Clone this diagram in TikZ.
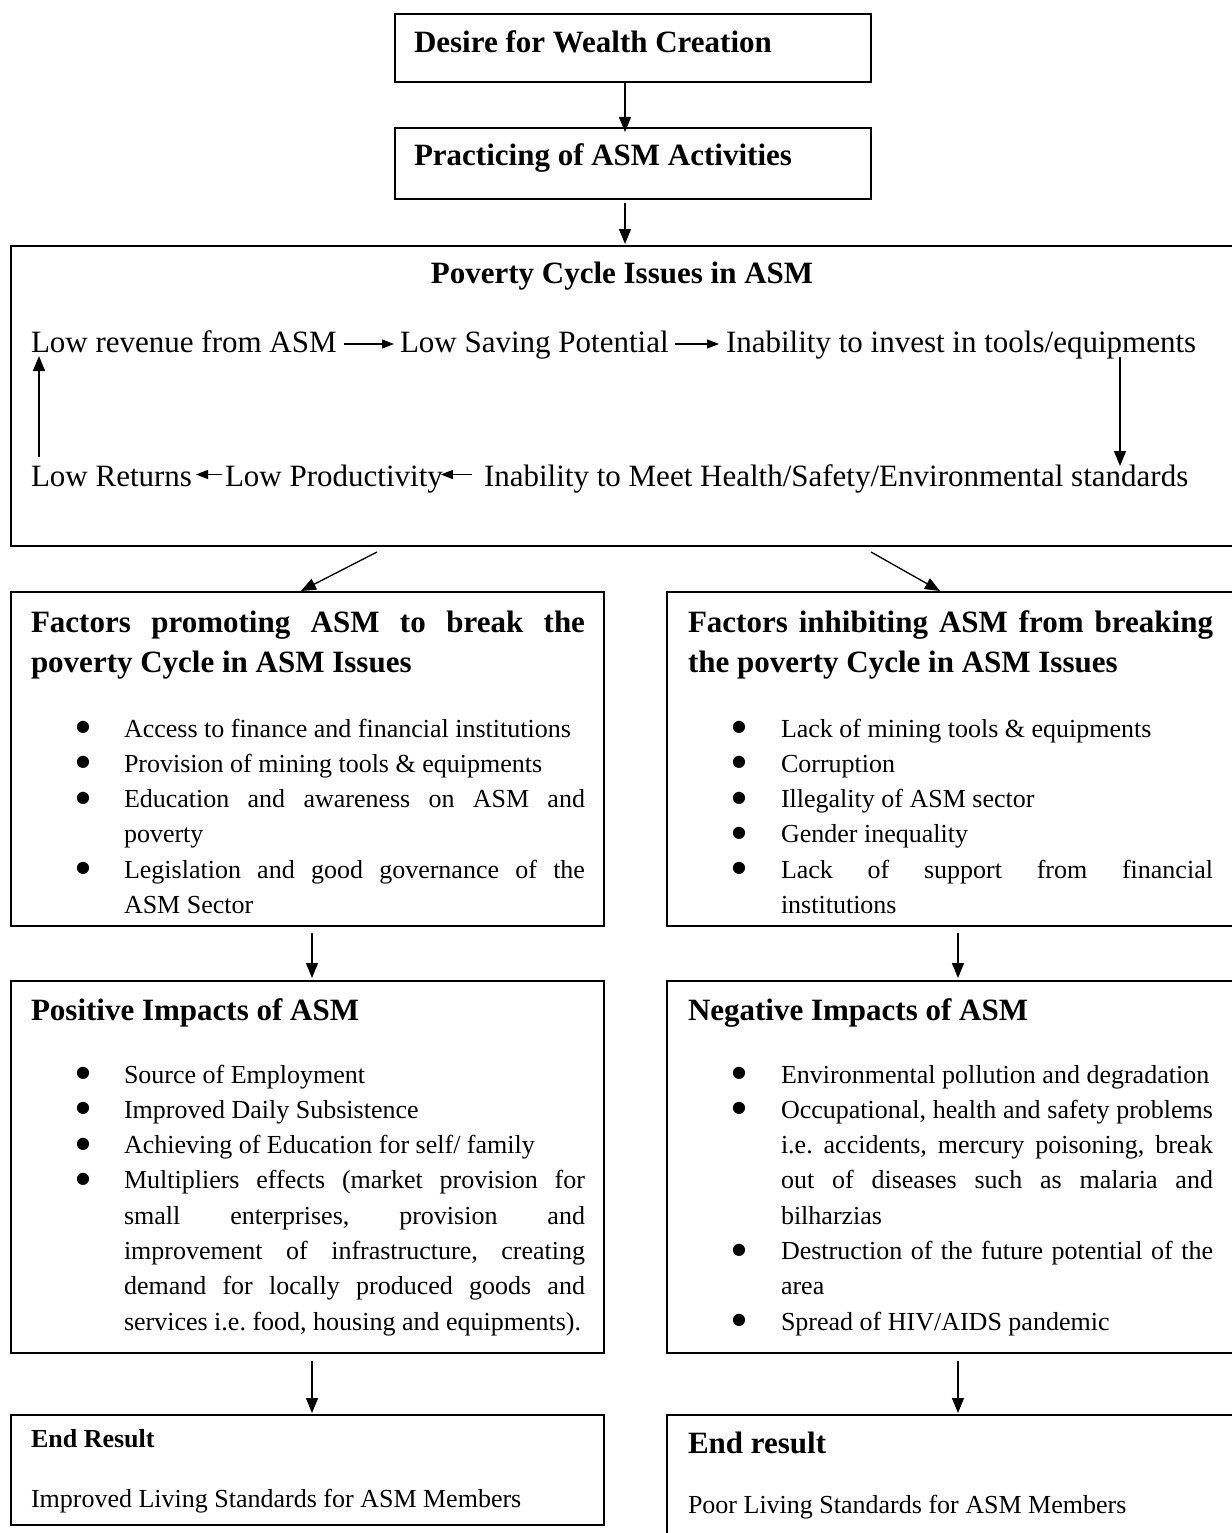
\documentclass[tikz,border=0pt]{standalone}
\usepackage{fontspec}
\setmainfont{Liberation Serif}
\newfontfamily\symfont{DejaVu Sans}
\usetikzlibrary{arrows.meta}
\newlength{\bhang}
\newcommand{\bitem}{\hangindent=\bhang\hangafter=1\noindent\makebox[\bhang][l]{\hspace{-2pt}\raisebox{5.5pt}{\symfont\fontsize{16}{16}\selectfont ●}}}
\newcommand{\hfont}{\fontsize{31}{40}\selectfont\bfseries}
\newcommand{\rfont}{\fontsize{31}{40}\selectfont}
\newcommand{\sfont}{\fontsize{26}{35.3}\selectfont}
\newcommand{\parset}{\tolerance=10000 \hyphenpenalty=10000 \exhyphenpenalty=10000 \frenchspacing}
\begin{document}
\begin{tikzpicture}[x=1pt,y=-1pt,
  box/.style={draw, line width=1.7pt, inner sep=0pt, outer sep=0pt, anchor=north west},
  txt/.style={inner sep=0pt, outer sep=0pt, anchor=base west},
  head/.style={txt, font=\hfont},
  row/.style={txt, font=\rfont},
  small/.style={txt, font=\sfont},
  para/.style={txt, align=justify},
  arr/.style={line width=1.3pt, -{Triangle[length=15pt,width=12pt]}},
  rarr/.style={line width=1.1pt, -{Triangle[length=12pt,width=9pt]}}
]
\useasboundingbox (0,0) rectangle (1231,1533);

% boxes
\node[box, minimum width=476pt, minimum height=68pt] (b1) at (395,14) {};
\node[box, minimum width=476pt, minimum height=71pt] (b2) at (395,128) {};
\node[box, minimum width=1223pt, minimum height=300pt] (pov) at (11,246) {};
\node[box, minimum width=593pt, minimum height=334pt] (fl) at (11,592) {};
\node[box, minimum width=567pt, minimum height=334pt] (fr) at (667,592) {};
\node[box, minimum width=593pt, minimum height=372pt] (pl) at (11,981) {};
\node[box, minimum width=567pt, minimum height=372pt] (pr) at (667,981) {};
\node[box, minimum width=593pt, minimum height=110pt] (el) at (11,1415) {};
\node[box, minimum width=567pt, minimum height=130pt] (er) at (667,1415) {};

% top texts
\node[head] (t1) at (414,53) {Desire for Wealth Creation};
\node[head] (t2) at (414,166) {Practicing of ASM Activities};

% poverty cycle
\node[head, anchor=base] (povt) at (622,283) {Poverty Cycle Issues in ASM};
\node[row] (r1a) at (31,352) {Low revenue from ASM};
\node[row] (r1b) at (400,352) {Low Saving Potential};
\node[row] (r1c) at (726,352) {Inability to invest in tools/equipments};
\node[row] (r2a) at (31,486.5) {Low Returns};
\node[row] (r2b) at (225,486.5) {Low Productivity};
\node[row] (r2c) at (484,486.5) {Inability to Meet Health/Safety/Environmental standards};
\coordinate (dtop) at (1120,357);
\coordinate (dbot) at (1120,466);
\coordinate (ubot) at (39,457);
\coordinate (utop) at (39,356);

\draw[rarr] ([shift={(7pt,8pt)}]r1a.base east) -- ([shift={(-6pt,8pt)}]r1b.base west);
\draw[rarr] ([shift={(6pt,8pt)}]r1b.base east) -- ([shift={(-7pt,8pt)}]r1c.base west);
\draw[arr] (dtop) -- (dbot);
\draw[rarr] ([shift={(-12pt,12pt)}]r2c.base west) -- ([shift={(-2pt,12pt)}]r2b.base east);
\draw[rarr] ([shift={(-3pt,12pt)}]r2b.base west) -- ([shift={(4pt,12pt)}]r2a.base east);
\draw[arr] (ubot) -- (utop);

% factor boxes
\node[para, text width=554pt, font=\hfont\parset] (flt) at (31,632)
  {Factors promoting ASM to break the\linebreak poverty Cycle in ASM Issues};
\node[para, text width=525pt, font=\hfont\parset] (frt) at (688,632)
  {Factors inhibiting ASM from breaking\linebreak the poverty Cycle in ASM Issues};
\node[para, text width=507pt, font=\sfont\parset] (fll) at (78,737)
  {\setlength{\bhang}{46pt}%
   \bitem Access to finance and financial institutions\par
   \bitem Provision of mining tools \& equipments\par
   \bitem Education and awareness on ASM and\linebreak poverty\par
   \bitem Legislation and good governance of the\linebreak ASM Sector\par};
\node[para, text width=479pt, font=\sfont\parset] (frl) at (734,737)
  {\setlength{\bhang}{47pt}%
   \bitem Lack of mining tools \& equipments\par
   \bitem Corruption\par
   \bitem Illegality of ASM sector\par
   \bitem Gender inequality\par
   \bitem Lack of support from financial\linebreak institutions\par};

% impact boxes
\node[head] (plt) at (31,1020) {Positive Impacts of ASM};
\node[head] (prt) at (688,1020) {Negative Impacts of ASM};
\node[para, text width=507pt, font=\sfont\parset] (pll) at (78,1083)
  {\setlength{\bhang}{46pt}%
   \bitem Source of Employment\par
   \bitem Improved Daily Subsistence\par
   \bitem Achieving of Education for self/ family\par
   \bitem Multipliers effects (market provision for\linebreak small enterprises, provision and\linebreak improvement of infrastructure, creating\linebreak demand for locally produced goods and\linebreak services i.e. food, housing and equipments).\par};
\node[para, text width=479pt, font=\sfont\parset] (prl) at (734,1083)
  {\setlength{\bhang}{47pt}%
   \bitem Environmental pollution and degradation\par
   \bitem Occupational, health and safety problems\linebreak i.e. accidents, mercury poisoning, break\linebreak out of diseases such as malaria and\linebreak bilharzias\par
   \bitem Destruction of the future potential of the\linebreak area\par
   \bitem Spread of HIV/AIDS pandemic\par};

% end results
\node[small, font=\sfont\bfseries] (elt) at (31,1447) {End Result};
\node[small] (elx) at (31,1507) {Improved Living Standards for ASM Members};
\node[head] (ert) at (688,1453) {End result};
\node[small] (erx) at (688,1513) {Poor Living Standards for ASM Members};

% connectors
\draw[arr] ([xshift=-8pt]b1.south) -- ([shift={(-8pt,-4pt)}]b2.north);
\draw[arr] ([shift={(-8pt,-4pt)}]b2.south) -- ([shift={(-8pt,2pt)}]pov.north -| b2.south);
\draw[arr] ([shift={(366pt,-6pt)}]pov.south west) -- ([shift={(290pt,1pt)}]fl.north west);
\draw[arr] ([shift={(860pt,-6pt)}]pov.south west) -- ([shift={(273pt,1pt)}]fr.north west);
\draw[arr] ([shift={(301pt,-7pt)}]fl.south west) -- ([shift={(301pt,3pt)}]pl.north west);
\draw[arr] ([shift={(291pt,-7pt)}]fr.south west) -- ([shift={(291pt,3pt)}]pr.north west);
\draw[arr] ([shift={(301pt,-8pt)}]pl.south west) -- ([shift={(301pt,2pt)}]el.north west);
\draw[arr] ([shift={(291pt,-8pt)}]pr.south west) -- ([shift={(291pt,2pt)}]er.north west);
\end{tikzpicture}
\end{document}
